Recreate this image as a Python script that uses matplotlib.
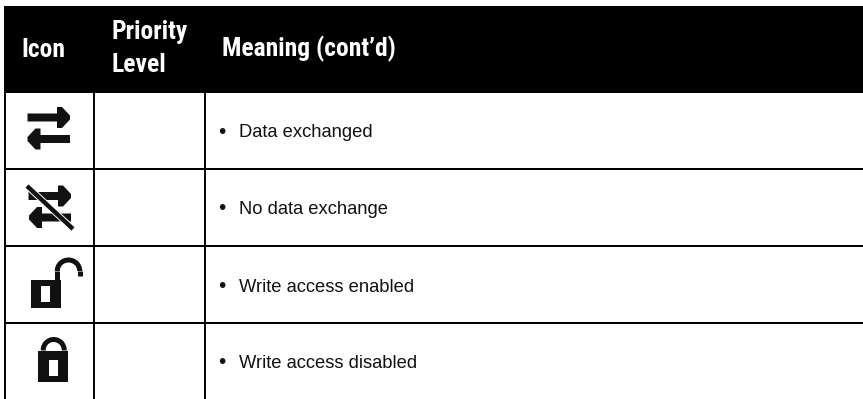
import matplotlib
matplotlib.use('Agg')
import matplotlib.pyplot as plt
from matplotlib.patches import Polygon, Rectangle, Arc

narrow = ['Roboto Condensed', 'PT Sans Narrow', 'Liberation Sans']

# table content
header_icon = 'Icon'
header_priority = ['Priority', 'Level']
header_meaning = 'Meaning (cont’d)'
meanings = ['Data exchanged', 'No data exchange', 'Write access enabled', 'Write access disabled']
baselines = [137, 214, 291.5, 367.5]
row_lines = [168.5, 245.5, 322.5]
col_lines = [5, 94, 205]
ink = '#111111'

fig = plt.figure(figsize=(8.63, 3.99), dpi=100)
ax = fig.add_axes([0, 0, 1, 1])
ax.set_xlim(0, 863)
ax.set_ylim(399, 0)
ax.axis('off')

# 表头
ax.add_patch(Rectangle((4, 6), 859, 87, color='black', lw=0))
head = dict(color='white', fontsize=18.4, fontweight='bold', family=narrow, va='baseline')
ax.text(21.5, 57, header_icon, **head)
ax.text(111.5, 39.5, header_priority[0], **head)
ax.text(111.5, 72.5, header_priority[1], **head)
ax.text(221.5, 56, header_meaning, **head)

# 表格线
for y in row_lines:
    ax.plot([4, 863], [y, y], color='black', lw=1.45, solid_capstyle='butt')
for x in col_lines:
    ax.plot([x, x], [93, 399], color='black', lw=1.4, solid_capstyle='butt')

# 说明文字
for y, m in zip(baselines, meanings):
    ax.text(218.5, y + 0.5, '•', color=ink, fontsize=15, family='Liberation Sans', va='baseline')
    ax.text(238.5, y, m, color=ink, fontsize=13.2, family='Liberation Sans', va='baseline')


def arrow(tail, tip, yc):
    d = 1 if tip > tail else -1
    neck = tip - 13 * d
    ax.add_patch(Polygon([(tail, yc - 4), (neck, yc - 4), (neck, yc - 10.5), (tip - 8 * d, yc - 10.5),
                          (tip, yc - 2), (tip, yc + 2), (tip - 8 * d, yc + 10.5), (neck, yc + 10.5),
                          (neck, yc + 4), (tail, yc + 4)], color=ink, lw=0))


# 交换图标
arrow(27.5, 70, 117.5)
arrow(70, 27.5, 139)

# 无交换图标
arrow(28.5, 71, 196)
arrow(71, 29, 217.5)
ax.plot([27, 73], [186, 229], color='white', lw=4.6, solid_capstyle='butt')
ax.plot([27, 73], [186, 229], color=ink, lw=3.2, solid_capstyle='butt')

# 开锁
ax.add_patch(Rectangle((30.7, 280), 30, 27.5, color=ink, lw=0))
ax.add_patch(Rectangle((40.7, 286), 9.5, 16, color='white', lw=0))
ax.add_patch(Arc((68.5, 271), 22.5, 22, theta1=180, theta2=360, color=ink, lw=3.6))
ax.plot([57.25, 57.25], [271, 281], color=ink, lw=3.6, solid_capstyle='butt')
ax.plot([79.75, 79.75], [271, 276], color=ink, lw=3.6, solid_capstyle='butt')

# 闭锁
ax.add_patch(Rectangle((38.3, 351), 30, 30.5, color=ink, lw=0))
ax.add_patch(Rectangle((49.3, 360), 9, 15.7, color='white', lw=0))
ax.add_patch(Arc((53.7, 350), 21, 21, theta1=180, theta2=360, color=ink, lw=3.6))
ax.plot([43.2, 43.2], [350, 352], color=ink, lw=3.6, solid_capstyle='butt')
ax.plot([64.2, 64.2], [350, 352], color=ink, lw=3.6, solid_capstyle='butt')

fig.savefig('out.png', dpi=100)
